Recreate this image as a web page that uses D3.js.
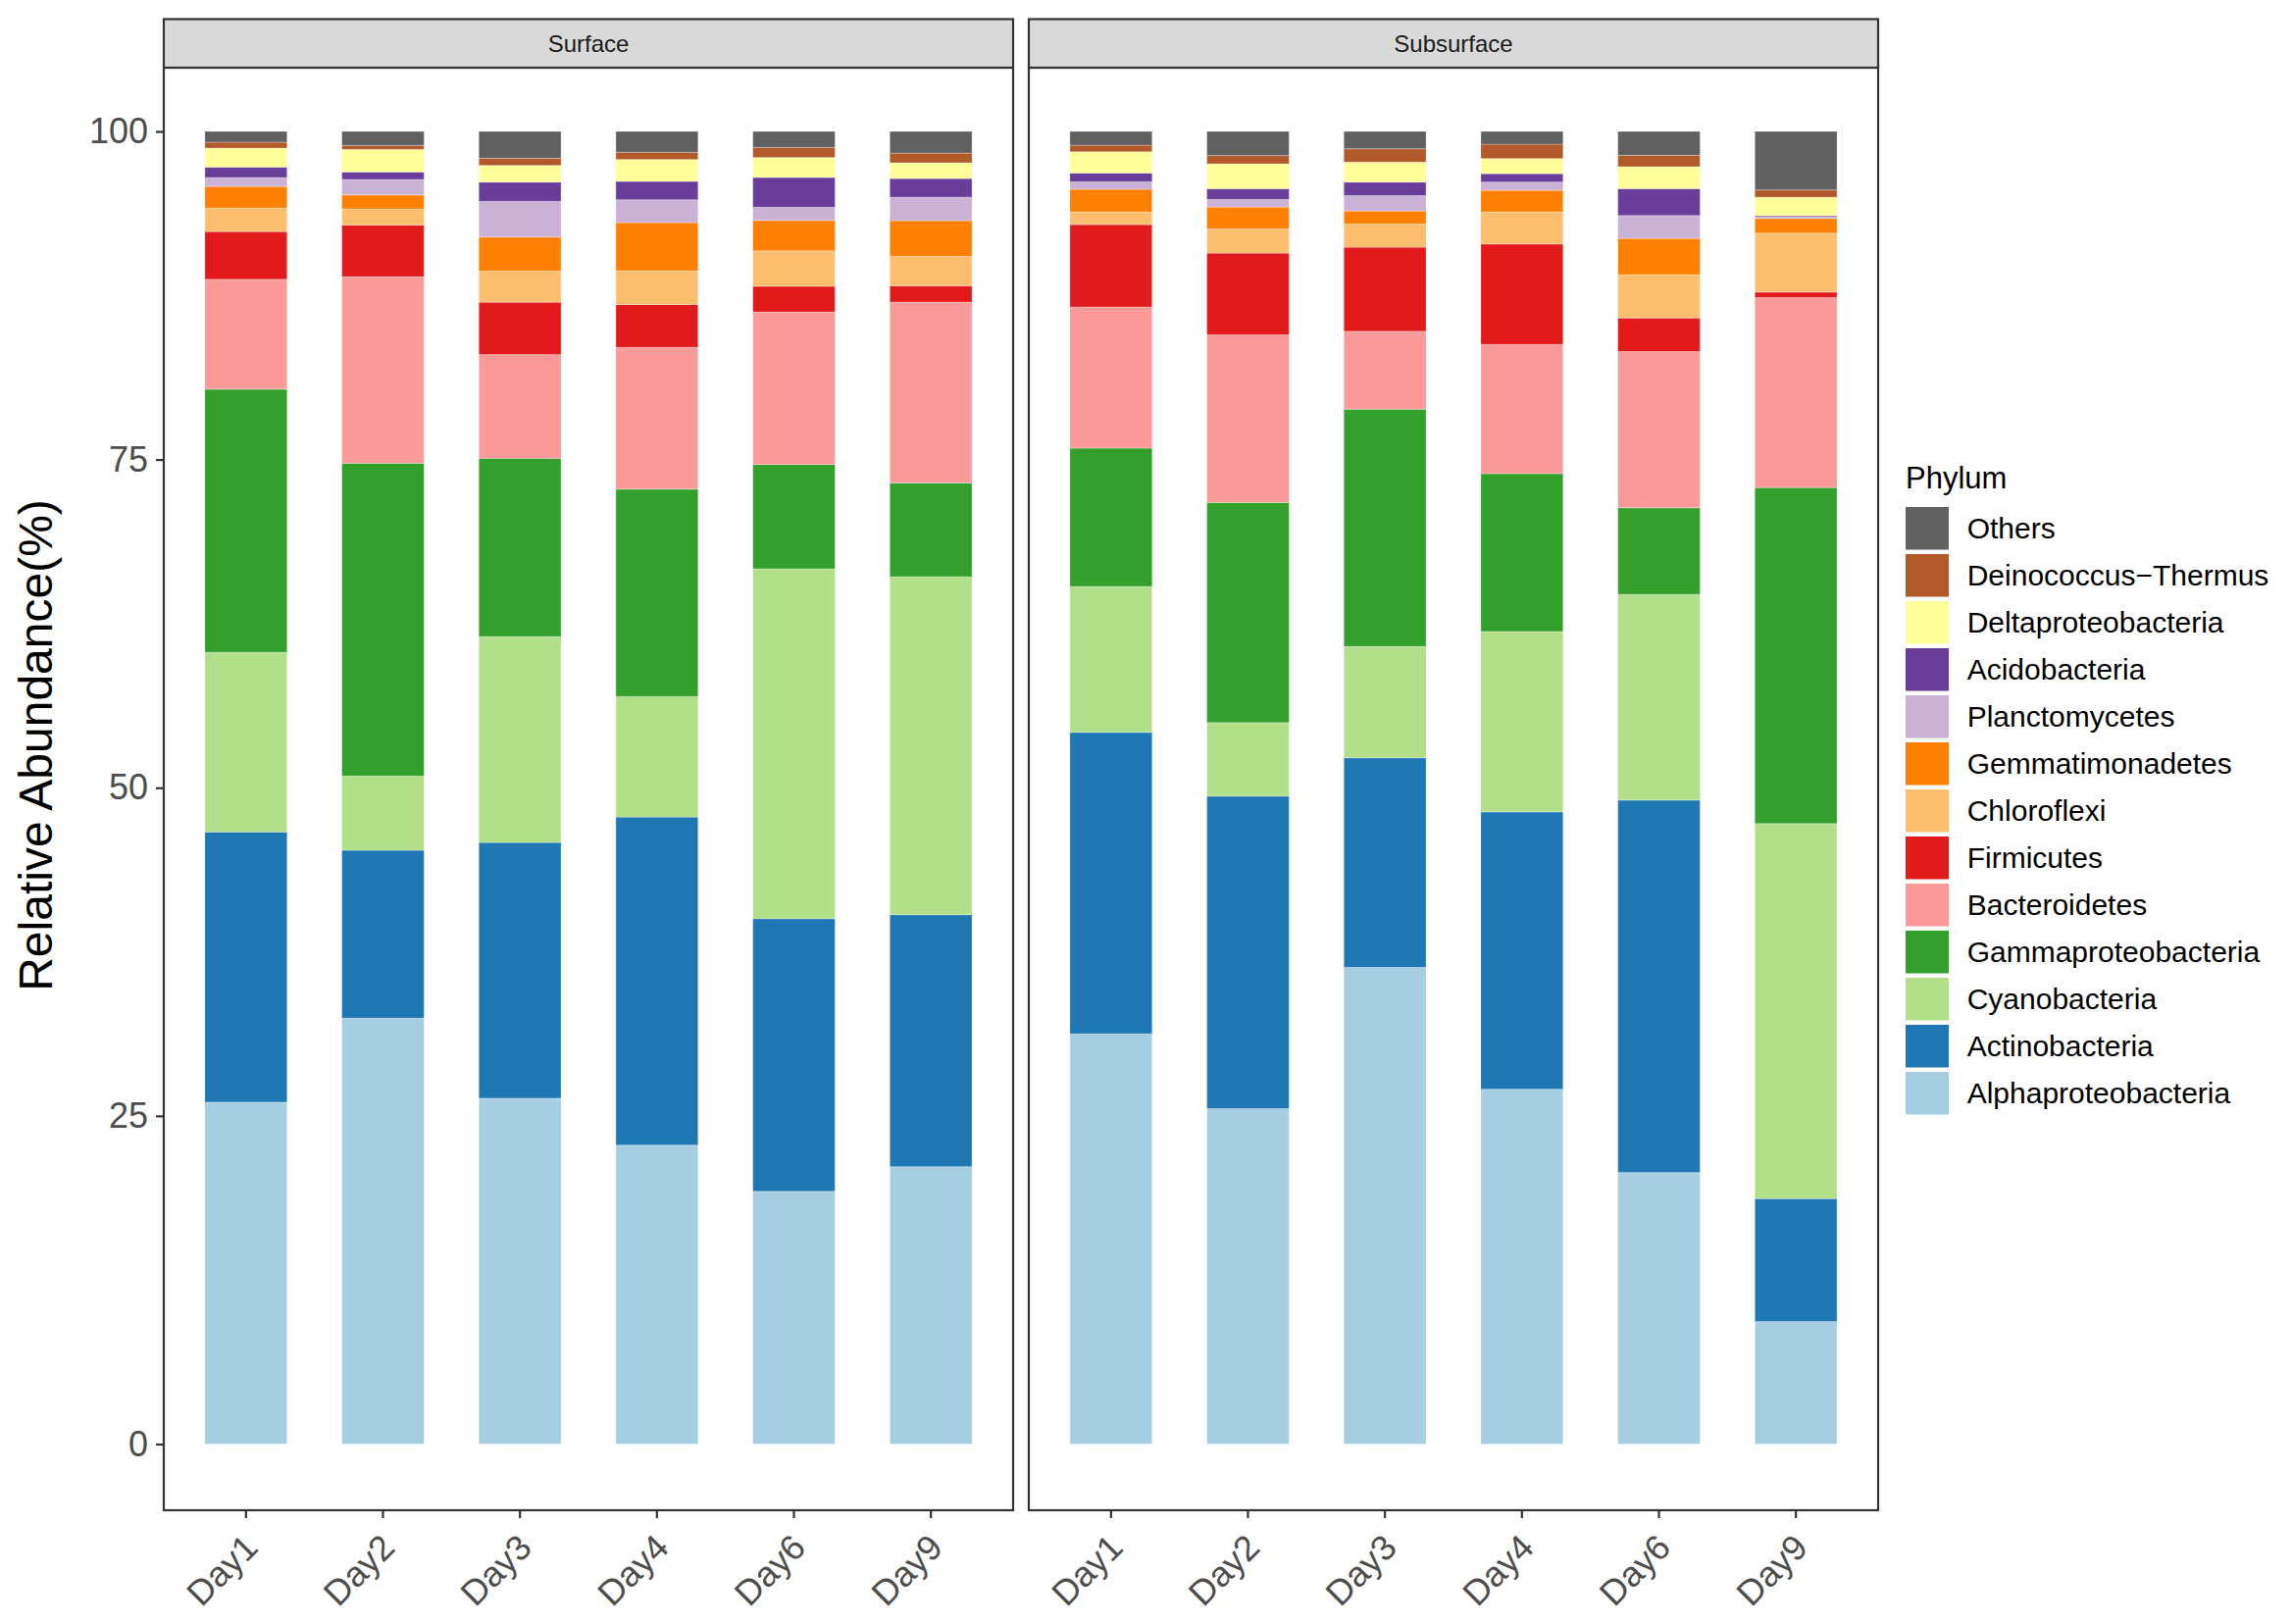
<!DOCTYPE html>
<html>
<head>
<meta charset="utf-8">
<script src="https://cdn.jsdelivr.net/npm/d3@7"></script>
<style>
  html, body { margin: 0; padding: 0; background: #ffffff; }
  svg { display: block; font-family: "Liberation Sans", Arial, Helvetica, sans-serif; }
</style>
</head>
<body>
<svg id="chart" width="2337" height="1656"></svg>
<script>
// ---- data ----
const days = ["Day1", "Day2", "Day3", "Day4", "Day6", "Day9"];
const sites = ["Surface", "Subsurface"];
const phyla = ["Alphaproteobacteria", "Actinobacteria", "Cyanobacteria", "Gammaproteobacteria",
  "Bacteroidetes", "Firmicutes", "Chloroflexi", "Gemmatimonadetes", "Planctomycetes",
  "Acidobacteria", "Deltaproteobacteria", "Deinococcus\u2212Thermus", "Others"];
const phylaColors = ["#A6CEE3", "#1F78B4", "#B2DF8A", "#33A02C", "#FB9A99", "#E31A1C",
  "#FDBF6F", "#FF7F00", "#CAB2D6", "#6A3D9A", "#FFFF99", "#B15928", "#606060"];
const yTicks = [0, 25, 50, 75, 100];

// values: Surface Day1..Day9, then Subsurface Day1..Day9 (relative abundance %)
const alpha   = [26.04, 32.44, 26.34, 22.77, 19.25, 21.13, 31.25, 25.55, 36.31, 27.03, 20.68, 9.33];
const actino  = [20.59, 12.80, 19.49, 25.00, 20.78, 19.20, 22.97, 23.81, 15.97, 21.13, 28.38, 9.37];
const cyano   = [13.69, 5.65, 15.68, 9.17, 26.64, 25.74, 11.11, 5.60, 8.48, 13.74, 15.67, 28.57];
const gamma   = [20.04, 23.83, 13.59, 15.81, 7.96, 7.15, 10.54, 16.77, 18.08, 12.03, 6.60, 25.60];
const bacter  = [8.37, 14.21, 7.90, 10.80, 11.61, 13.77, 10.75, 12.77, 5.93, 9.84, 11.90, 14.47];
const firm    = [3.64, 3.94, 3.99, 3.26, 1.97, 1.25, 6.28, 6.23, 6.41, 7.66, 2.56, 0.42];
const chloro  = [1.79, 1.22, 2.37, 2.57, 2.69, 2.24, 0.97, 1.84, 1.77, 2.44, 3.29, 4.49];
const gemmat  = [1.65, 1.07, 2.59, 3.67, 2.32, 2.72, 1.72, 1.67, 0.99, 1.64, 2.77, 1.12];
const plancto = [0.67, 1.18, 2.72, 1.74, 1.00, 1.79, 0.57, 0.58, 1.17, 0.63, 1.74, 0.10];
const acido   = [0.80, 0.57, 1.47, 1.40, 2.27, 1.42, 0.67, 0.82, 1.03, 0.64, 2.05, 0.10];
const delta   = [1.45, 1.72, 1.27, 1.67, 1.52, 1.20, 1.62, 1.89, 1.52, 1.15, 1.67, 1.42];
const deino   = [0.45, 0.30, 0.55, 0.55, 0.77, 0.74, 0.50, 0.63, 1.02, 1.10, 0.87, 0.55];
const others  = [0.82, 1.07, 2.04, 1.59, 1.22, 1.65, 1.05, 1.84, 1.32, 0.97, 1.82, 4.46];

const seriesValues = [alpha, actino, cyano, gamma, bacter, firm, chloro, gemmat, plancto, acido, delta, deino, others];

// ---- layout ----
const svg = d3.select("#chart");
const font = "'Liberation Sans', Arial, Helvetica, sans-serif";
const panelTop = 69, panelBottom = 1540, stripTop = 19.5;
const panelX = [[167, 1033], [1049, 1915]];
const y = d3.scaleLinear().domain([0, 100]).range([1472.5, 134]);
const color = d3.scaleOrdinal().domain(phyla).range(phylaColors);

sites.forEach((site, si) => {
  const [x0, x1] = panelX[si];
  const x = d3.scaleBand().domain(days).range([x0, x1]).paddingInner(0.4).paddingOuter(0.3);

  // table for stacking
  const rows = days.map((d, di) => {
    const r = { day: d };
    phyla.forEach((p, pi) => { r[p] = seriesValues[pi][si * 6 + di]; });
    return r;
  });
  const stacked = d3.stack().keys(phyla)(rows);

  const g = svg.append("g");
  // panel background
  g.append("rect").attr("x", x0).attr("y", panelTop).attr("width", x1 - x0)
    .attr("height", panelBottom - panelTop).attr("fill", "#ffffff");

  // bars
  stacked.forEach(layer => {
    g.append("g").attr("fill", color(layer.key))
      .selectAll("rect").data(layer).join("rect")
      .attr("x", d => x(d.data.day))
      .attr("width", x.bandwidth())
      .attr("y", d => y(d[1]))
      .attr("height", d => y(d[0]) - y(d[1]))
      .attr("stroke", "#ffffff").attr("stroke-opacity", 0.3).attr("stroke-width", 1);
  });

  // panel border
  g.append("rect").attr("x", x0).attr("y", panelTop).attr("width", x1 - x0)
    .attr("height", panelBottom - panelTop).attr("fill", "none")
    .attr("stroke", "#333333").attr("stroke-width", 2.2);

  // strip
  g.append("rect").attr("x", x0).attr("y", stripTop).attr("width", x1 - x0)
    .attr("height", panelTop - stripTop).attr("fill", "#D9D9D9")
    .attr("stroke", "#333333").attr("stroke-width", 2.2);
  g.append("text").attr("x", (x0 + x1) / 2).attr("y", (stripTop + panelTop) / 2)
    .attr("dy", "0.35em").attr("text-anchor", "middle")
    .attr("font-size", 24).attr("fill", "#1A1A1A").text(site);

  // x axis
  const xAxis = d3.axisBottom(x).tickSize(8).tickPadding(0);
  const xg = g.append("g").attr("transform", `translate(0,${panelBottom})`).call(xAxis);
  xg.select(".domain").remove();
  xg.selectAll(".tick line").attr("stroke", "#333333").attr("stroke-width", 2.2);
  xg.selectAll(".tick text")
    .attr("font-family", font).attr("font-size", 36).attr("fill", "#4D4D4D")
    .attr("text-anchor", "end").attr("dy", null).attr("y", null)
    .attr("transform", "translate(14,40) rotate(-45)");

  // y axis (left panel only)
  if (si === 0) {
    const yAxis = d3.axisLeft(y).tickValues(yTicks).tickSize(8).tickPadding(8);
    const yg = g.append("g").attr("transform", `translate(${x0},0)`).call(yAxis);
    yg.select(".domain").remove();
    yg.selectAll(".tick line").attr("stroke", "#333333").attr("stroke-width", 2.2);
    yg.selectAll(".tick text")
      .attr("font-family", font).attr("font-size", 36).attr("fill", "#4D4D4D");
  }
});

// y axis title
svg.append("text")
  .attr("transform", "translate(53,760) rotate(-90)")
  .attr("text-anchor", "middle").attr("font-size", 48).attr("fill", "#000000")
  .text("Relative Abundance(%)");

// legend
const legend = svg.append("g");
legend.append("text").attr("x", 1943).attr("y", 498)
  .attr("font-size", 31).attr("fill", "#000000").text("Phylum");
const legendOrder = phyla.slice().reverse();
const li = legend.selectAll("g.item").data(legendOrder).join("g").attr("class", "item")
  .attr("transform", (d, i) => `translate(1943,${517 + i * 48})`);
li.append("rect").attr("width", 44).attr("height", 43.5).attr("fill", d => color(d));
li.append("text").attr("x", 62.7).attr("y", 21.75).attr("dy", "0.35em")
  .attr("font-size", 30).attr("fill", "#000000").text(d => d);
</script>
</body>
</html>
